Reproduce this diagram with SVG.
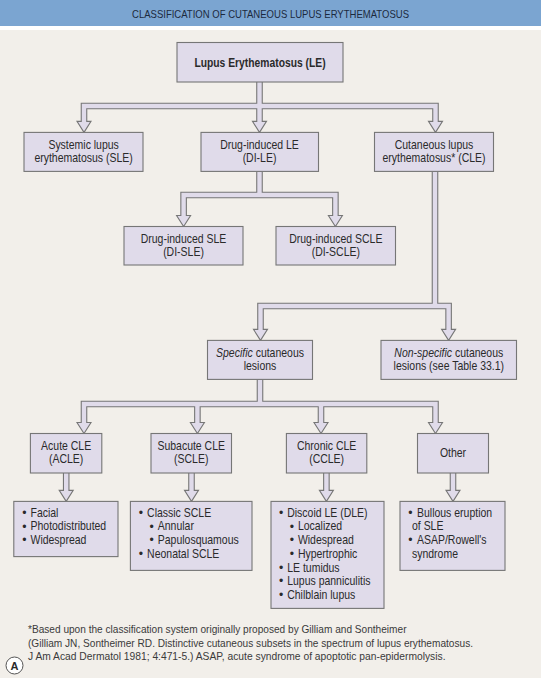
<svg xmlns="http://www.w3.org/2000/svg" width="541" height="678" viewBox="0 0 541 678">
<style>
text{font-family:"Liberation Sans",Arial,sans-serif;fill:#2a2a2a;font-size:12.2px;transform-box:fill-box;transform-origin:center;transform:scaleX(0.86)}
.c{text-anchor:middle}
.l{transform-origin:left center}
.b{font-weight:bold}
.i{font-style:italic}
.box{fill:#e0dbea;stroke:#767676;stroke-width:1.1}
.po{fill:none;stroke:#767676;stroke-width:6.6;stroke-linejoin:miter}
.pi{fill:none;stroke:#e0dbea;stroke-width:4.4;stroke-linejoin:miter}
.hd{fill:#e0dbea;stroke:#767676;stroke-width:1.1;stroke-linejoin:miter}
.fn{font-size:11px;fill:#3a3a3a;transform:none}
.bl{text-anchor:middle;transform:none}
.nt{transform:none}
</style>
<rect x="0" y="0" width="541" height="678" fill="#ffffff"/>
<rect x="0" y="0" width="541" height="26" fill="#7ba5d1"/>
<rect x="0" y="30" width="541" height="648" fill="#f2efea"/>
<text x="270.5" y="17.6" class="c nt" style="font-size:10.8px;fill:#1b2a3e" textLength="277" lengthAdjust="spacingAndGlyphs">CLASSIFICATION OF CUTANEOUS LUPUS ERYTHEMATOSUS</text>

<g id="connectors">
<path class="po" d="M84,121.4V106H435.5V121.4M259.5,82V121.4"/>
<path class="po" d="M183.6,215.5V195H335.4V215.5M259.5,171.4V195"/>
<path class="po" d="M260.5,329.4V306H448.6V329.4M435,171.4V306"/>
<path class="po" d="M84,422.5V404H435.5V422.5M197.4,404V422.5M321,404V422.5M260,379.4V404"/>
<path class="po" d="M66.2,473V490.4M191.5,473V490.4M326.4,473V490.4M453,473V490.4"/>
<g>
<polygon class="hd" points="77,121.4 91,121.4 84,132.4"/>
<polygon class="hd" points="252.5,121.4 266.5,121.4 259.5,132.4"/>
<polygon class="hd" points="428.5,121.4 442.5,121.4 435.5,132.4"/>
<polygon class="hd" points="176.6,215.5 190.6,215.5 183.6,226.5"/>
<polygon class="hd" points="328.4,215.5 342.4,215.5 335.4,226.5"/>
<polygon class="hd" points="253.5,329.4 267.5,329.4 260.5,340.4"/>
<polygon class="hd" points="441.6,329.4 455.6,329.4 448.6,340.4"/>
<polygon class="hd" points="77,422.5 91,422.5 84,433.5"/>
<polygon class="hd" points="190.4,422.5 204.4,422.5 197.4,433.5"/>
<polygon class="hd" points="314,422.5 328,422.5 321,433.5"/>
<polygon class="hd" points="428.5,422.5 442.5,422.5 435.5,433.5"/>
<polygon class="hd" points="59.2,490.4 73.2,490.4 66.2,501.4"/>
<polygon class="hd" points="184.5,490.4 198.5,490.4 191.5,501.4"/>
<polygon class="hd" points="319.4,490.4 333.4,490.4 326.4,501.4"/>
<polygon class="hd" points="446,490.4 460,490.4 453,501.4"/>
</g>
<path class="pi" d="M84,123V106H435.5V123M259.5,82V123"/>
<path class="pi" d="M183.6,217V195H335.4V217M259.5,171.4V195"/>
<path class="pi" d="M260.5,331V306H448.6V331M435,171.4V306"/>
<path class="pi" d="M84,424V404H435.5V424M197.4,404V424M321,404V424M260,379.4V404"/>
<path class="pi" d="M66.2,473V492M191.5,473V492M326.4,473V492M453,473V492"/>
</g>

<g id="n-le">
<rect class="box" x="177" y="42.5" width="166" height="39.5"/>
<text x="260" y="67.5" class="c b" style="font-size:12px">Lupus Erythematosus (LE)</text>
</g>
<g id="n-sle">
<rect class="box" x="24" y="132.4" width="119" height="39"/>
<text x="83.6" y="148.6" class="c">Systemic lupus</text>
<text x="83.6" y="162.4" class="c">erythematosus (SLE)</text>
</g>
<g id="n-dile">
<rect class="box" x="201" y="132.4" width="117.5" height="39"/>
<text x="259.5" y="148.6" class="c">Drug-induced LE</text>
<text x="259.5" y="162.4" class="c">(DI-LE)</text>
</g>
<g id="n-cle">
<rect class="box" x="374.5" y="132.4" width="119" height="39"/>
<text x="434" y="148.6" class="c">Cutaneous lupus</text>
<text x="434" y="162.4" class="c">erythematosus* (CLE)</text>
</g>
<g id="n-disle">
<rect class="box" x="124" y="226.5" width="119" height="38.5"/>
<text x="183.5" y="242.7" class="c">Drug-induced SLE</text>
<text x="183.5" y="256.5" class="c">(DI-SLE)</text>
</g>
<g id="n-discle">
<rect class="box" x="276" y="226.5" width="119.5" height="38.5"/>
<text x="335.8" y="242.7" class="c">Drug-induced SCLE</text>
<text x="335.8" y="256.5" class="c">(DI-SCLE)</text>
</g>
<g id="n-specific">
<rect class="box" x="207.5" y="340.4" width="105" height="39"/>
<text x="260" y="356.6" class="c"><tspan class="i">Specific</tspan> cutaneous</text>
<text x="260" y="370.4" class="c">lesions</text>
</g>
<g id="n-nonspecific">
<rect class="box" x="381" y="340.4" width="135.5" height="39"/>
<text x="448.8" y="356.6" class="c"><tspan class="i">Non-specific</tspan> cutaneous</text>
<text x="448.8" y="370.4" class="c">lesions (see Table 33.1)</text>
</g>
<g id="n-acle">
<rect class="box" x="30.4" y="433.5" width="71.4" height="39.5"/>
<text x="66.1" y="449.7" class="c">Acute CLE</text>
<text x="66.1" y="463.5" class="c">(ACLE)</text>
</g>
<g id="n-scle">
<rect class="box" x="151" y="433.5" width="80.5" height="39.5"/>
<text x="191.2" y="449.7" class="c">Subacute CLE</text>
<text x="191.2" y="463.5" class="c">(SCLE)</text>
</g>
<g id="n-ccle">
<rect class="box" x="286.4" y="433.5" width="80.4" height="39.5"/>
<text x="326.6" y="449.7" class="c">Chronic CLE</text>
<text x="326.6" y="463.5" class="c">(CCLE)</text>
</g>
<g id="n-other">
<rect class="box" x="417.5" y="433.5" width="71" height="39.5"/>
<text x="453" y="456.6" class="c">Other</text>
</g>

<g id="l-acle">
<rect class="box" x="13.8" y="501.4" width="104.2" height="55.2"/>
<text x="24.3" y="516.8" class="bl">•</text><text x="30.5" y="516.8" class="l">Facial</text>
<text x="24.3" y="530.5" class="bl">•</text><text x="30.5" y="530.5" class="l">Photodistributed</text>
<text x="24.3" y="544.2" class="bl">•</text><text x="30.5" y="544.2" class="l">Widespread</text>
</g>
<g id="l-scle">
<rect class="box" x="130.4" y="501.4" width="121.6" height="69"/>
<text x="140.9" y="516.8" class="bl">•</text><text x="147.1" y="516.8" class="l">Classic SCLE</text>
<text x="151.6" y="530.5" class="bl">•</text><text x="157.8" y="530.5" class="l">Annular</text>
<text x="151.6" y="544.2" class="bl">•</text><text x="157.8" y="544.2" class="l">Papulosquamous</text>
<text x="140.9" y="557.9" class="bl">•</text><text x="147.1" y="557.9" class="l">Neonatal SCLE</text>
</g>
<g id="l-ccle">
<rect class="box" x="271" y="501.4" width="113" height="107"/>
<text x="281.2" y="516.8" class="bl">•</text><text x="287.2" y="516.8" class="l">Discoid LE (DLE)</text>
<text x="291.8" y="530.5" class="bl">•</text><text x="297.9" y="530.5" class="l">Localized</text>
<text x="291.8" y="544.2" class="bl">•</text><text x="297.9" y="544.2" class="l">Widespread</text>
<text x="291.8" y="557.9" class="bl">•</text><text x="297.9" y="557.9" class="l">Hypertrophic</text>
<text x="281.2" y="571.6" class="bl">•</text><text x="287.2" y="571.6" class="l">LE tumidus</text>
<text x="281.2" y="585.3" class="bl">•</text><text x="287.2" y="585.3" class="l">Lupus panniculitis</text>
<text x="281.2" y="599" class="bl">•</text><text x="287.2" y="599" class="l">Chilblain lupus</text>
</g>
<g id="l-other">
<rect class="box" x="400" y="501.4" width="105" height="69"/>
<text x="410.5" y="516.8" class="bl">•</text><text x="417" y="516.8" class="l">Bullous eruption</text>
<text x="412" y="530.5" class="l">of SLE</text>
<text x="410.5" y="544.2" class="bl">•</text><text x="417" y="544.2" class="l">ASAP/Rowell's</text>
<text x="412" y="557.9" class="l">syndrome</text>
</g>

<g id="footnote">
<text x="28" y="633.3" class="fn" textLength="378.5" lengthAdjust="spacingAndGlyphs">*Based upon the classification system originally proposed by Gilliam and Sontheimer</text>
<text x="28" y="646.7" class="fn" textLength="445" lengthAdjust="spacingAndGlyphs">(Gilliam JN, Sontheimer RD. Distinctive cutaneous subsets in the spectrum of lupus erythematosus.</text>
<text x="28" y="660" class="fn" textLength="417.5" lengthAdjust="spacingAndGlyphs">J Am Acad Dermatol 1981; 4:471-5.) ASAP, acute syndrome of apoptotic pan-epidermolysis.</text>
</g>
<g id="label-a">
<circle cx="14.5" cy="665.5" r="8.5" fill="#ffffff" stroke="#555555" stroke-width="1"/>
<text x="14.5" y="669.6" class="c b nt" style="font-size:11px">A</text>
</g>
</svg>
